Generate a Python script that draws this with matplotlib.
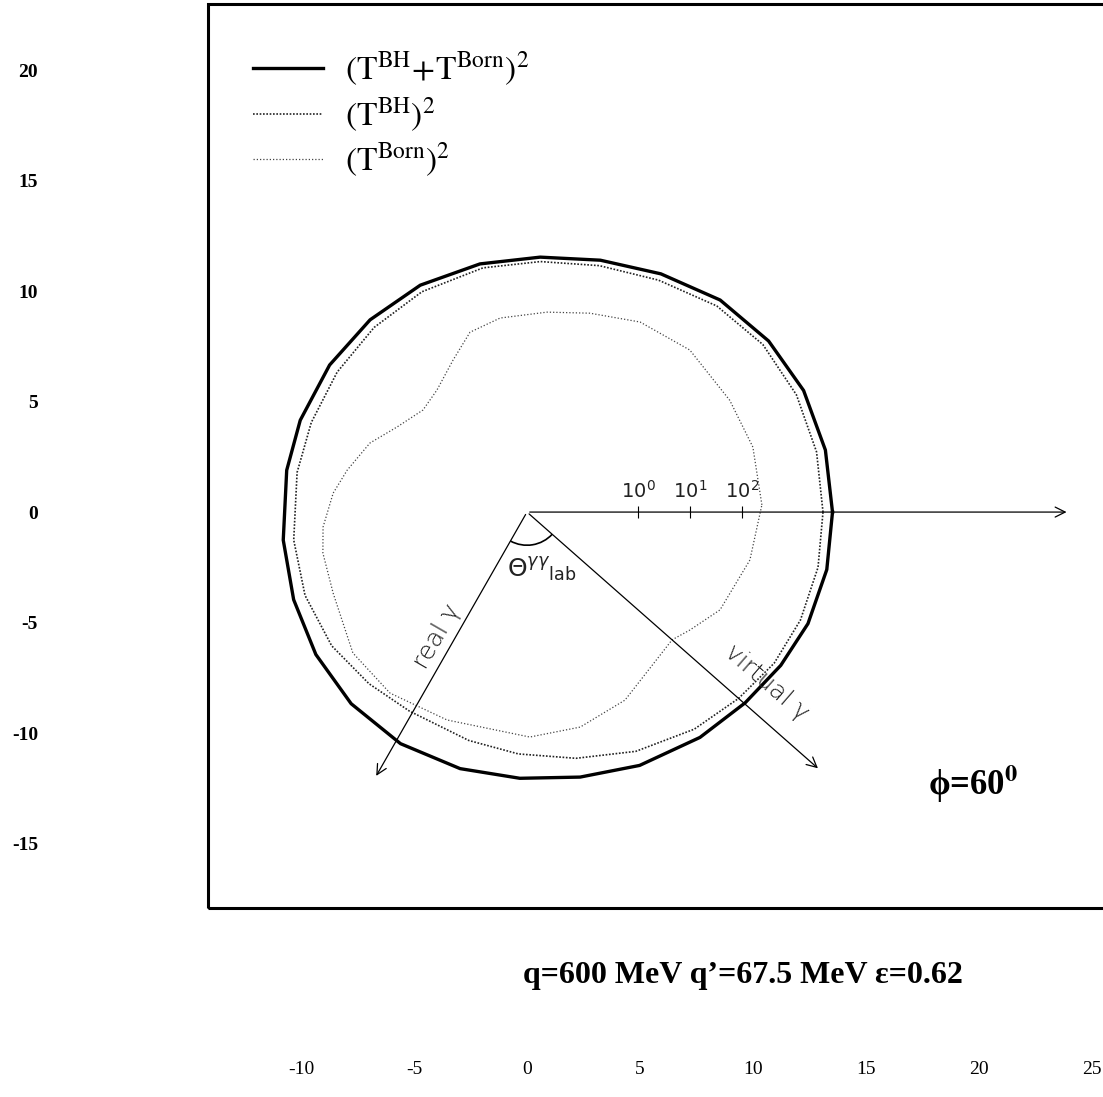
import numpy as np
import matplotlib
matplotlib.use('Agg')
import matplotlib.pyplot as plt
from matplotlib.patches import Rectangle, Arc

plt.rcParams['mathtext.fontset'] = 'stix'
plt.rcParams['axes.unicode_minus'] = False
serif = ['Liberation Serif', 'DejaVu Serif']

# angular distributions: angle (deg) and radius on the log radial scale
ang_tot = [0, 12, 24.2, 35.9, 48.3, 61.2, 74.1, 87.1, 100.5, 114.7, 128.6, 142.7, 157.5, 169.9,
           -173.3, -159, -145.4, -131.9, -118.1, -104.3, -91.5, -78.9, -66.5, -53.1, -41.8,
           -31.7, -22.1, -11.1]
r_tot = [13.52, 13.5, 13.42, 13.2, 12.85, 12.3, 11.85, 11.55, 11.42, 11.3, 11.13, 10.98,
         10.86, 10.8, 10.86, 11.06, 11.35, 11.65, 11.88, 11.98, 12.05, 12.22, 12.5, 12.75,
         12.95, 13.2, 13.42, 13.52]

ang_bh = [0, 12, 24, 36, 48, 61, 74, 87, 100, 115, 129, 143, 157, 170,
          -173, -159, -145, -132, -120, -104, -92, -79, -66, -53, -42, -32, -22, -11]
r_bh = [13.1, 13.1, 13.05, 12.9, 12.55, 12.0, 11.6, 11.35, 11.22, 11.0, 10.75, 10.52,
        10.37, 10.33, 10.4, 10.52, 10.55, 10.45, 10.4, 10.65, 10.95, 11.35, 11.85, 12.3,
        12.6, 12.9, 13.05, 13.12]

ang_born = [1.8, 16.4, 29.4, 45.5, 59.8, 72.8, 84.4, 97.7, 107.2, 115.4, 125.8, 134.9,
            146.2, 155.8, 166.6, 174.3, -175.7, -168.4, -156.8, -140.4, -126.5, -110.6,
            -89.3, -76.4, -63.0, -42.0, -36.5, -27.4, -12.4]
r_born = [10.4, 10.42, 10.3, 10.28, 9.95, 9.42, 9.09, 8.86, 8.52, 7.62, 6.81, 6.52,
          6.92, 7.62, 8.18, 8.62, 9.05, 9.22, 9.33, 10.0, 10.19, 10.05,
          10.18, 10.01, 9.55, 8.64, 8.97, 9.62, 10.1]

# radial scale: position of 10^0 and length of one decade
r_unit = 4.91
r_decade = 2.3
decades = [0, 1, 2]

# photon directions (deg) and arrow lengths
theta_real, len_real = -119.2, 13.8
theta_virt, len_virt = -42.0, 17.45
len_q = 24.0

x_ticks = [-10, -5, 0, 5, 10, 15, 20, 25]
y_ticks = [20, 15, 10, 5, 0, -5, -10, -15]


def polar_xy(ang, r):
    a = np.deg2rad(np.append(ang, ang[0]))
    r = np.append(r, r[0])
    return r * np.cos(a), r * np.sin(a)


fig = plt.figure(figsize=(11.03, 10.97), dpi=100)
ax = fig.add_axes([40 / 1103, 47 / 1097, 1063 / 1103, 1050 / 1097])
ax.set_xlim(-21.55, 25.49)
ax.set_ylim(-24.34, 23.17)
for s in ax.spines.values():
    s.set_visible(False)
ax.set_xticks(x_ticks)
ax.set_yticks(y_ticks)
ax.tick_params(axis='x', length=0, pad=8, labelsize=14)
ax.tick_params(axis='y', length=0, pad=1.5, labelsize=14)
for lab in ax.get_xticklabels():
    lab.set_family(serif)
for lab in ax.get_yticklabels():
    lab.set_family(serif)
    lab.set_fontweight('bold')

# frame
ax.add_patch(Rectangle((-14.12, -17.92), 50, 40.91, fill=False, lw=2.2, ec='black'))

x, y = polar_xy(ang_tot, r_tot)
l1, = ax.plot(x, y, '-', color='black', lw=2.4)
x, y = polar_xy(ang_bh, r_bh)
l2, = ax.plot(x, y, linestyle=(0, (1, 1)), color='#222222', lw=1.2)
x, y = polar_xy(ang_born, r_born)
l3, = ax.plot(x, y, linestyle=(0, (1, 1.6)), color='#444444', lw=0.9)

leg = ax.legend([l1, l2, l3],
                [r'$(\mathrm{T}^{\mathrm{BH}}\!+\!\mathrm{T}^{\mathrm{Born}})^2$',
                 r'$(\mathrm{T}^{\mathrm{BH}})^2$',
                 r'$(\mathrm{T}^{\mathrm{Born}})^2$'],
                loc='upper left', bbox_to_anchor=(-12.12, 20.9), bbox_transform=ax.transData,
                frameon=False, fontsize=24, handlelength=2.1, handletextpad=0.66,
                labelspacing=0.22, borderpad=0, borderaxespad=0)

# q axis with log radial ticks
arrow = dict(arrowstyle='->', lw=0.9, color='black', mutation_scale=18)
ax.annotate('', xy=(len_q, 0), xytext=(0, 0), arrowprops=arrow)
tick_r = [r_unit + r_decade * d for d in decades]
ax.vlines(tick_r, -0.28, 0.28, color='black', lw=0.8)
for xr, d in zip(tick_r, decades):
    ax.text(xr, 0.45, r'$10^{%d}$' % d, ha='center', va='bottom', fontsize=14,
            color='#222222', math_fontfamily='dejavusans')

# photon arrows
for th, ln in [(theta_real, len_real), (theta_virt, len_virt)]:
    t = np.deg2rad(th)
    ax.annotate('', xy=(ln * np.cos(t), ln * np.sin(t)), xytext=(0, 0), arrowprops=arrow)
ax.add_patch(Arc((0, 0), 3.0, 3.0, theta1=theta_real, theta2=theta_virt, lw=1.2, color='black'))

ax.text(-0.88, -2.6, r'$\Theta^{\gamma\gamma}{}_{\mathrm{lab}}$', fontsize=18, va='center',
        color='#222222', math_fontfamily='dejavusans')
ax.text(-3.98, -5.61, 'real γ', rotation=60, fontsize=18, ha='center', va='center',
        color='#222222', fontweight='light', rotation_mode='anchor')
ax.text(10.62, -7.74, 'virtual γ', rotation=-41, fontsize=18, ha='center', va='center',
        color='#222222', fontweight='light', rotation_mode='anchor')

ax.text(17.74, -12.8, r'ϕ=60$^{\mathbf{0}}$', fontsize=25, fontweight='bold',
        family=serif, va='baseline')
ax.text(9.56, -21.3, 'q=600 MeV q’=67.5 MeV ε=0.62', fontsize=23, fontweight='bold',
        family=serif, ha='center', va='baseline')

fig.savefig('out.png', dpi=100)
